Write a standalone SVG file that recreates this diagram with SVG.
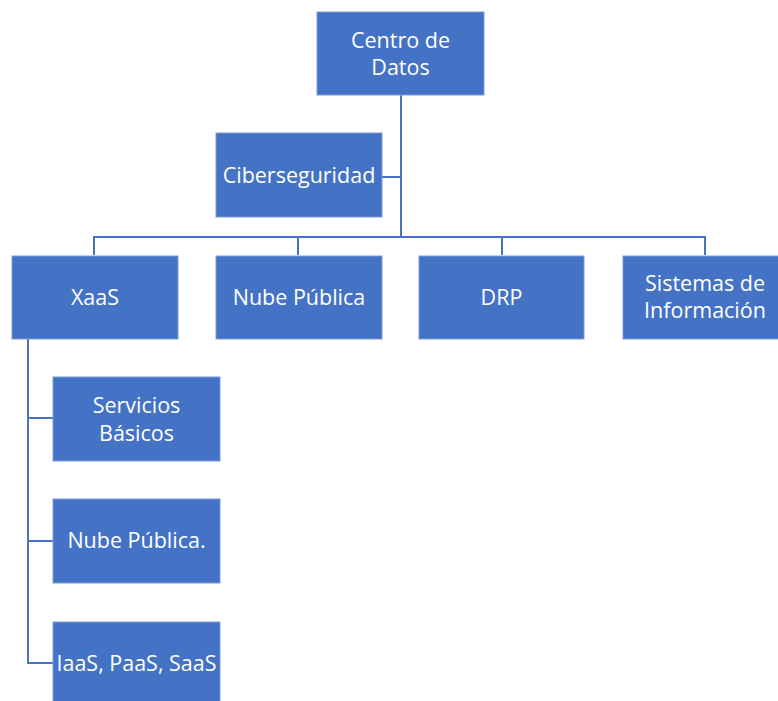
<svg xmlns="http://www.w3.org/2000/svg" width="778" height="701" viewBox="0 0 778 701">
  <style>
    .box { fill: #4472C4; stroke: #7d9bd6; stroke-width: 1; }
    .lbl { fill: #ffffff; font-family: "Open Sans", "Liberation Sans", sans-serif; font-size: 21.5px; text-anchor: middle; }
    .link { fill: none; stroke: #4a72c0; stroke-width: 2; }
  </style>
  <rect width="778" height="701" fill="#ffffff"/>

  <g id="connectors">
    <path class="link" d="M401 95 V237"/>
    <path class="link" d="M382 177 H401"/>
    <path class="link" d="M94 255 V237 H705 V255"/>
    <path class="link" d="M298 237 V255"/>
    <path class="link" d="M502 237 V255"/>
    <path class="link" d="M28 339 V663 H53"/>
    <path class="link" d="M28 418 H53"/>
    <path class="link" d="M28 541 H53"/>
  </g>

  <g id="centro-de-datos">
    <rect class="box" x="317" y="12" width="167" height="83"/>
    <text class="lbl" x="400.5" y="48">Centro de</text>
    <text class="lbl" x="400.5" y="75">Datos</text>
  </g>

  <g id="ciberseguridad">
    <rect class="box" x="216" y="133" width="166" height="84"/>
    <text class="lbl" x="299" y="183">Ciberseguridad</text>
  </g>

  <g id="xaas">
    <rect class="box" x="12" y="256" width="166" height="83"/>
    <text class="lbl" x="95" y="305">XaaS</text>
  </g>

  <g id="nube-publica">
    <rect class="box" x="216" y="256" width="166" height="83"/>
    <text class="lbl" x="299" y="305">Nube Pública</text>
  </g>

  <g id="drp">
    <rect class="box" x="419" y="256" width="165" height="83"/>
    <text class="lbl" x="501.5" y="305">DRP</text>
  </g>

  <g id="sistemas-de-informacion">
    <rect class="box" x="623" y="256" width="167" height="83"/>
    <text class="lbl" x="705" y="291">Sistemas de</text>
    <text class="lbl" x="705" y="318">Información</text>
  </g>

  <g id="servicios-basicos">
    <rect class="box" x="53" y="377" width="167" height="84"/>
    <text class="lbl" x="136.5" y="413">Servicios</text>
    <text class="lbl" x="136.5" y="441">Básicos</text>
  </g>

  <g id="nube-publica-xaas">
    <rect class="box" x="53" y="499" width="167" height="84"/>
    <text class="lbl" x="136.5" y="548">Nube Pública.</text>
  </g>

  <g id="iaas-paas-saas">
    <rect class="box" x="53" y="622" width="167" height="84"/>
    <text class="lbl" x="136.5" y="671">IaaS, PaaS, SaaS</text>
  </g>
</svg>
